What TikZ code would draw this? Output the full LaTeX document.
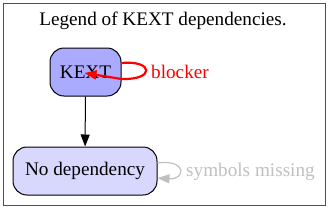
\documentclass[tikz,border=0pt]{standalone}
\usepackage{fontspec}
\setmainfont{Liberation Serif}
\usetikzlibrary{arrows.meta}
\definecolor{kextfill}{RGB}{170,170,255}
\definecolor{nodepfill}{RGB}{216,216,255}
\definecolor{missgray}{RGB}{192,192,192}
\definecolor{framegray}{RGB}{80,80,80}
\tikzset{
  gvtext/.style={font=\fontsize{19.2}{22}\selectfont, inner sep=0pt},
  gvbox/.style={gvtext, draw=black, line width=1pt, rounded corners=14pt, minimum height=48pt},
  gvarrow/.style={-{Triangle[length=12pt,width=9pt]}},
}
\begin{document}
\begin{tikzpicture}[x=1pt,y=-1pt]
\useasboundingbox (0,0) rectangle (330,210);
\draw[framegray, line width=1pt] (3.5,3.5) rectangle (325.5,205.5);
\node[gvtext] (title) at (163,21) {Legend of KEXT dependencies.};
\node[gvbox, fill=kextfill, minimum width=71pt] (kext) at (85.5,72) {KEXT};
\node[gvbox, fill=nodepfill, minimum width=144pt] (nodep) at (85,171) {No dependency};
\draw[gvarrow, line width=1pt] (kext) -- (nodep);
\draw[red, line width=2.2pt, gvarrow] ([yshift=9pt]kext.east) .. controls +(32,-3) and +(34,1) .. ([yshift=-7pt]kext.east) -- ([xshift=-1pt,yshift=-1pt]kext.center);
\node[gvtext, red, anchor=west] (blk) at (151,72) {blocker};
\draw[missgray, line width=1.2pt, gvarrow] ([yshift=8pt]nodep.east) .. controls +(30,-4) and +(28,2) .. ([yshift=-7pt]nodep.east);
\node[gvtext, missgray, anchor=west] (miss) at (186,172) {symbols missing};
\end{tikzpicture}
\end{document}
